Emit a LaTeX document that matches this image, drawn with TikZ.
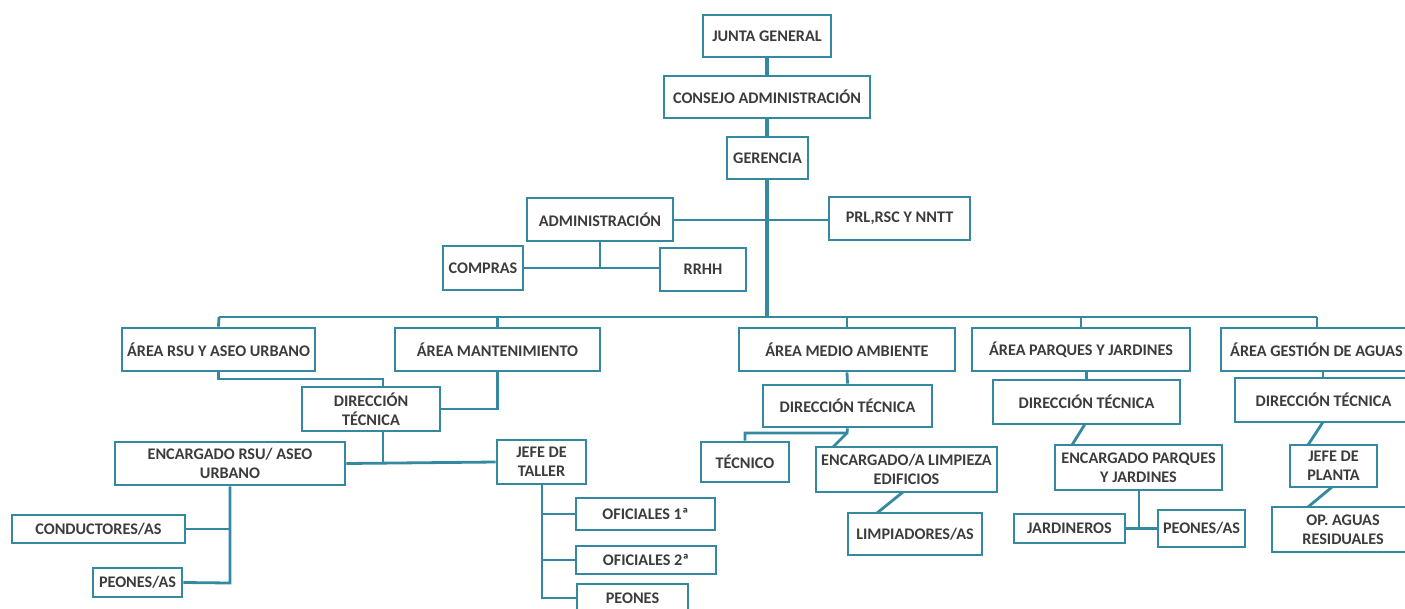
\documentclass[tikz,border=0pt]{standalone}
\usepackage{fontspec}
\setmainfont{Carlito}
\definecolor{teal1}{RGB}{52,136,160}
\definecolor{txt}{RGB}{60,60,60}
\newcommand\obox[6]{\node[ob, minimum width={#4-#2}, minimum height={#5-#3}] (#1) at ({(#2+#4)/2},{(#3+#5)/2}) {#6};}
\begin{document}
\begin{tikzpicture}[x=1pt,y=-1pt,
  ob/.style={draw=teal1, line width=2.8pt, fill=white, inner sep=0pt, align=center,
    text=txt, font=\fontsize{16.2}{19}\selectfont\bfseries},
  ln/.style={draw=teal1, line width=2.8pt},
  trunk/.style={draw=teal1, line width=3.4pt}]
\useasboundingbox (0,0) rectangle (1405,608);
\clip (0,0) rectangle (1405,608);
\fill[white] (0,0) rectangle (1405,608);
% junctions
\coordinate (busL) at (219,317);
\coordinate (busR) at (1317,317);
\coordinate (j1) at (383,379);
\coordinate (j2) at (383,463);
\coordinate (j3) at (230,583);
\coordinate (j4) at (542,598);
\coordinate (j5) at (847,433);
\coordinate (e1) at (833,447);
\coordinate (e2) at (903,492);
\coordinate (e3) at (877,513);
\coordinate (e4) at (1085,424);
\coordinate (e5) at (1072,445);
\coordinate (j6) at (1139,528);
\coordinate (e6) at (1323,422);
\coordinate (e7) at (1308,445);
\coordinate (e8) at (1332,487);
\coordinate (e9) at (1308,507);
% connectors (drawn first, boxes cover ends)
\draw[trunk] (767,57) -- (767,317);
\draw[ln] (busL) -- (busR);
\draw[ln] (673,220) -- (829,220);
\draw[ln] (600,241) -- (600,268);
\draw[ln] (523,268) -- (660,268);
%
\obox{junta}{703}{15}{831}{57}{JUNTA GENERAL}
\obox{consejo}{664}{76}{870}{118}{CONSEJO ADMINISTRACIÓN}
\obox{gerencia}{727}{137}{808}{179}{GERENCIA}
\obox{adm}{527}{198}{673}{241}{ADMINISTRACIÓN}
\obox{prl}{829}{197}{970}{240}{PRL,RSC Y NNTT}
\obox{compras}{443}{246}{523}{290}{COMPRAS}
\obox{rrhh}{660}{248}{746}{291}{RRHH}
%
\obox{rsu}{122}{328}{315}{371}{ÁREA RSU Y ASEO URBANO}
\obox{mant}{395}{328}{600}{371}{ÁREA MANTENIMIENTO}
\obox{medio}{739}{328}{955}{371}{ÁREA MEDIO AMBIENTE}
\obox{parq}{972}{328}{1190}{371}{ÁREA PARQUES Y JARDINES}
\obox{gest}{1221}{328}{1412}{371}{ÁREA GESTIÓN DE AGUAS}
%
\obox{dtL}{302}{387}{440}{431}{DIRECCIÓN\\TÉCNICA}
\obox{encR}{115}{442}{345}{485}{ENCARGADO RSU/ ASEO\\URBANO}
\obox{jefeT}{497}{440}{586}{484}{JEFE DE\\TALLER}
\obox{cond}{12}{515}{185}{543}{CONDUCTORES/AS}
\obox{peonA}{93}{568}{182}{597}{PEONES/AS}
\obox{of1}{576}{498}{715}{530}{OFICIALES 1ª}
\obox{of2}{576}{546}{716}{574}{OFICIALES 2ª}
\obox{peonT}{577}{584}{688}{612}{PEONES}
%
\obox{dtM}{763}{385}{932}{427}{DIRECCIÓN TÉCNICA}
\obox{tec}{701}{442}{789}{482}{TÉCNICO}
\obox{encM}{816}{447}{997}{492}{ENCARGADO/A LIMPIEZA\\EDIFICIOS}
\obox{limp}{848}{513}{982}{555}{LIMPIADORES/AS}
%
\obox{dtP}{993}{380}{1180}{424}{DIRECCIÓN TÉCNICA}
\obox{encP}{1055}{445}{1222}{490}{ENCARGADO PARQUES\\Y JARDINES}
\obox{jard}{1014}{514}{1125}{543}{JARDINEROS}
\obox{peonP}{1158}{510}{1245}{547}{PEONES/AS}
%
\obox{dtG}{1235}{378}{1412}{422}{DIRECCIÓN TÉCNICA}
\obox{jefeP}{1290}{445}{1377}{487}{JEFE DE\\PLANTA}
\obox{opA}{1272}{507}{1414}{552}{OP. AGUAS\\RESIDUALES}
% connectors between named nodes
\draw[ln] (junta.south) -- (consejo.north);
\draw[ln] (consejo.south) -- (gerencia.north);
\draw[ln] (rsu.north) -- (busL);
\draw[ln] (mant.north) -- (mant.north |- busL);
\draw[ln] (medio.north) -- (medio.north |- busL);
\draw[ln] (parq.north) -- (parq.north |- busL);
\draw[ln] (busR) -- (busR |- gest.north);
\draw[ln] (rsu.south) |- (j1) -- (j1 |- dtL.north);
\draw[ln] (mant.south) |- (dtL.east);
\draw[ln] (j1 |- dtL.south) -- (j2);
\draw[ln] (encR.east) -- (jefeT.west);
\draw[ln] (j3 |- encR.south) -- (j3) -- (peonA.east);
\draw[ln] (cond.east) -- (cond.east -| j3);
\draw[ln] (j4 |- jefeT.south) -- (j4) -- (peonT.west);
\draw[ln] (of1.west) -- (of1.west -| j4);
\draw[ln] (of2.west) -- (of2.west -| j4);
\draw[ln] (medio.south) -- (dtM.north);
\draw[ln] (dtM.south) -- (j5) -| (tec.north);
\draw[ln] (j5) -- (e1);
\draw[ln] (e2) -- (e3);
\draw[ln] (parq.south -| dtP.north) -- (dtP.north);
\draw[ln] (e4) -- (e5);
\draw[ln] (j6 |- encP.south) -- (j6);
\draw[ln] (jard.east) -- (peonP.west);
\draw[ln] (gest.south -| e6) -- (dtG.north -| e6);
\draw[ln] (e6) -- (e7);
\draw[ln] (e8) -- (e9);
\end{tikzpicture}
\end{document}
